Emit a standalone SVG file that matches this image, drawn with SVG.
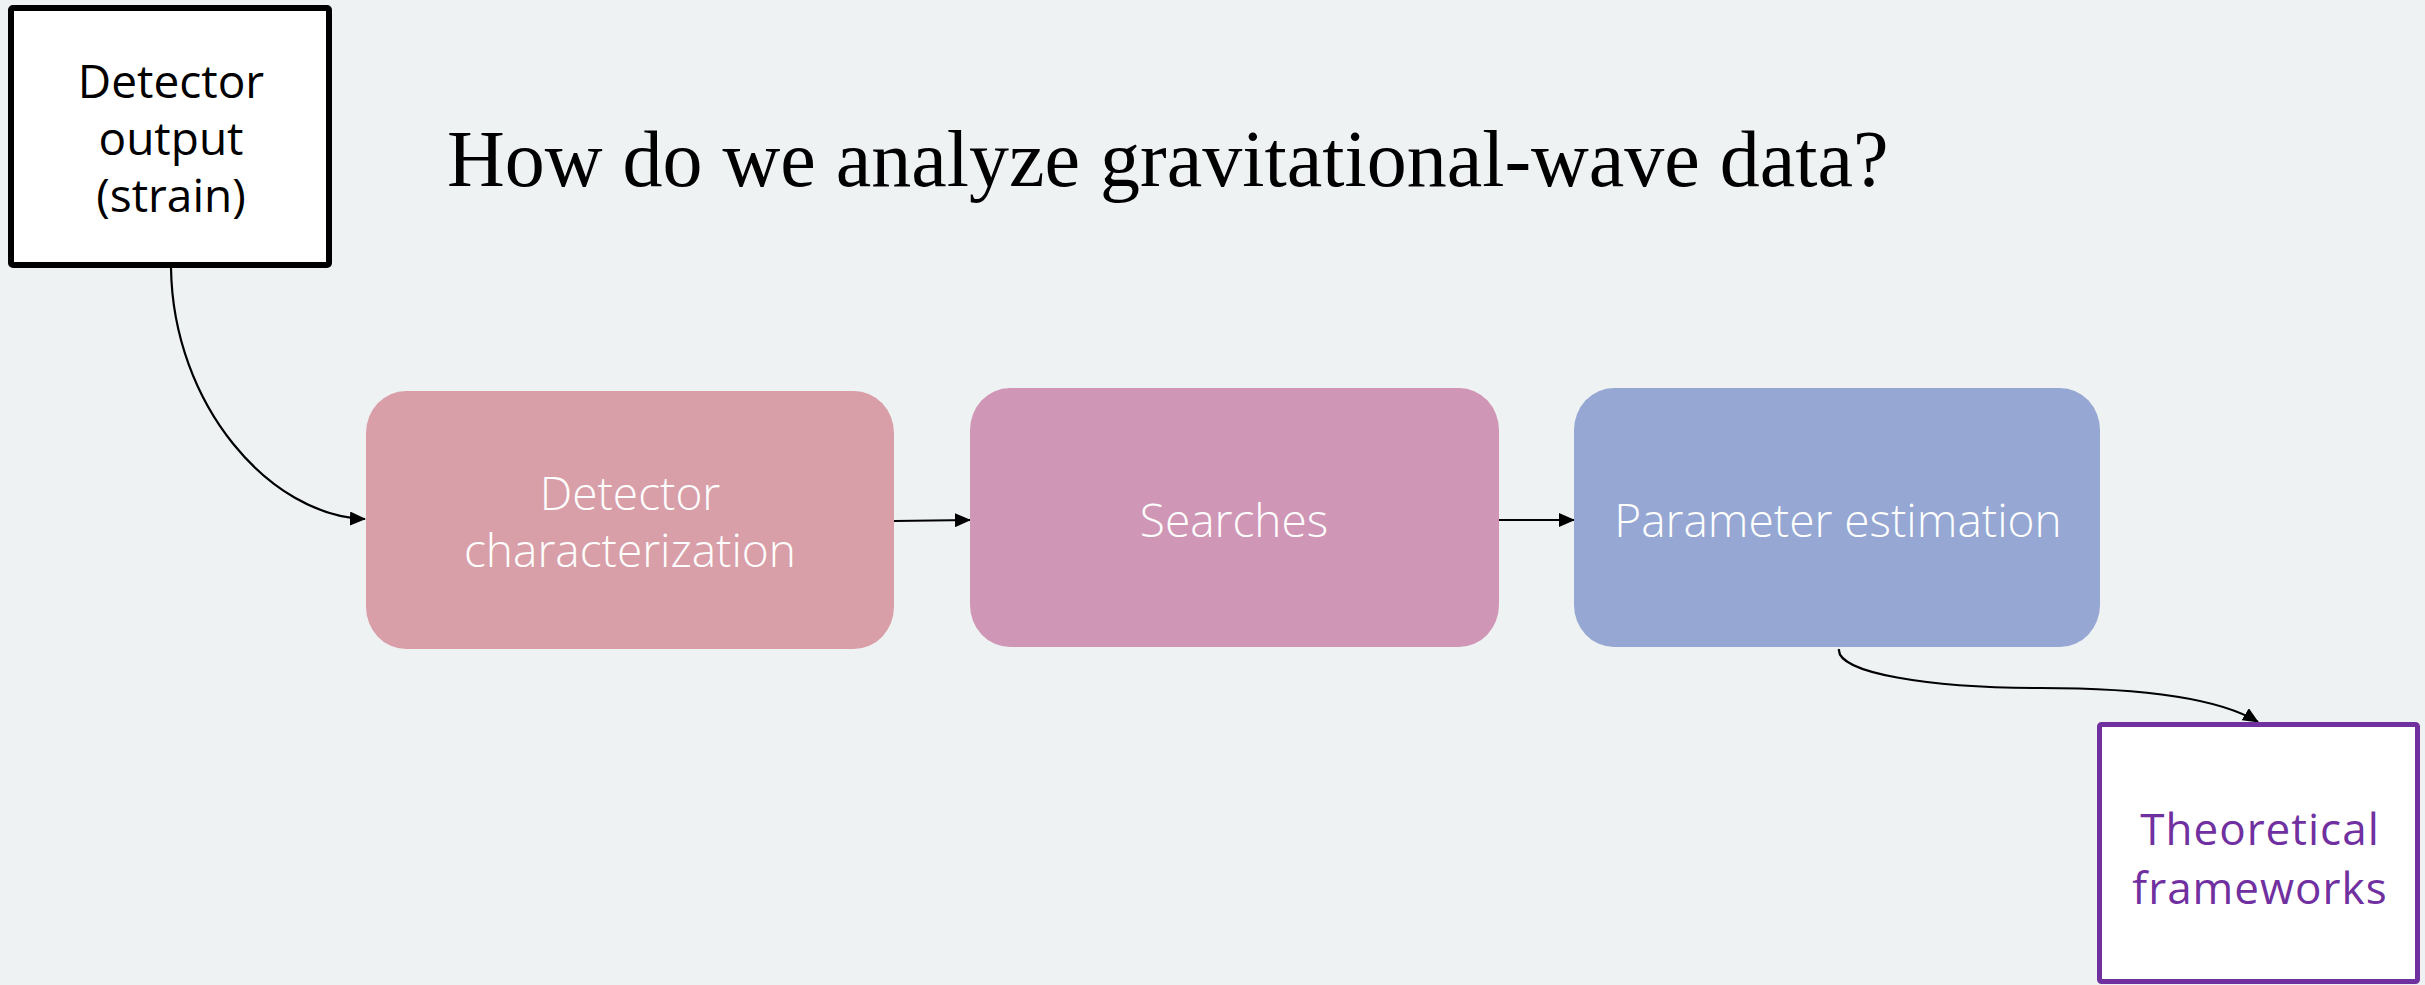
<svg xmlns="http://www.w3.org/2000/svg" width="2425" height="985" viewBox="0 0 2425 985">
<style>
.lbl{font-family:"Open Sans","Liberation Sans",sans-serif;font-size:46px;text-anchor:middle}
.white{fill:#ffffff;font-weight:300}
.dark{fill:#000000;font-weight:400}
.purple{fill:#7030A0;font-weight:400;font-size:44px;letter-spacing:1px}
.conn{fill:none;stroke:#000000;stroke-width:2.2}
.title{font-family:"Liberation Serif","Times New Roman",serif;font-size:80px;fill:#000000}
</style>
<defs>
<marker id="arr" markerUnits="userSpaceOnUse" markerWidth="16" markerHeight="14" refX="15" refY="7" orient="auto">
<path d="M0,0 L16,7 L0,14 z" fill="#000000"/>
</marker>
</defs>
<rect x="0" y="0" width="2425" height="985" fill="#EEF2F3"/>
<text class="title" x="447" y="186">How do we analyze gravitational-wave data?</text>

<g id="connectors">
<path class="conn" d="M171,268 C173,405 270,516 365,519" marker-end="url(#arr)"/>
<path class="conn" d="M894,521 L970,520" marker-end="url(#arr)"/>
<path class="conn" d="M1499,520 L1574,520" marker-end="url(#arr)"/>
<path class="conn" d="M1839,649 C1836,673 1930,688 2040,688 C2150,688 2222,700 2258,722" marker-end="url(#arr)"/>
</g>

<g id="node-detector-output">
<rect x="11" y="8" width="318" height="257" fill="#ffffff" stroke="#000000" stroke-width="6" rx="2"/>
<text class="lbl dark" x="171" y="98">Detector</text>
<text class="lbl dark" x="171" y="155">output</text>
<text class="lbl dark" x="171" y="212">(strain)</text>
</g>

<g id="node-detchar">
<rect x="366" y="391" width="528" height="258" rx="40" ry="42" fill="#D99FA9"/>
<text class="lbl white" x="630" y="510">Detector</text>
<text class="lbl white" x="630" y="567">characterization</text>
</g>

<g id="node-searches">
<rect x="970" y="388" width="529" height="259" rx="40" ry="42" fill="#D096B6"/>
<text class="lbl white" x="1234" y="537">Searches</text>
</g>

<g id="node-pe">
<rect x="1574" y="388" width="526" height="259" rx="40" ry="42" fill="#95A7D2"/>
<text class="lbl white" x="1838" y="537">Parameter estimation</text>
</g>

<g id="node-theory">
<rect x="2099.5" y="724.5" width="318" height="257" fill="#ffffff" stroke="#7030A0" stroke-width="5" rx="2"/>
<text class="lbl purple" x="2260" y="845">Theoretical</text>
<text class="lbl purple" x="2260" y="904">frameworks</text>
</g>
</svg>
